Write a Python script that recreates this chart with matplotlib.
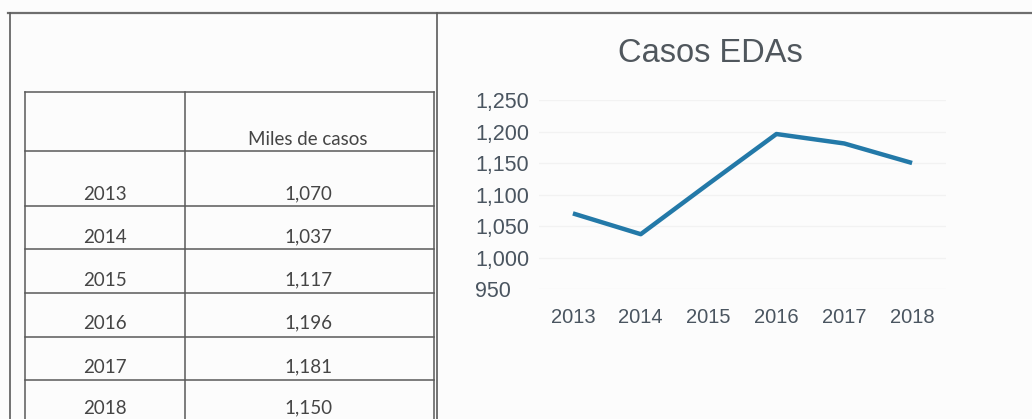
import matplotlib.pyplot as plt

years = [2013, 2014, 2015, 2016, 2017, 2018]
casos = [1070, 1037, 1117, 1196, 1181, 1150]
col_header = 'Miles de casos'
title = 'Casos EDAs'
y_ticks = [950, 1000, 1050, 1100, 1150, 1200, 1250]

W, H = 1032, 419
fig = plt.figure(figsize=(W / 100, H / 100), dpi=100, facecolor='#fcfcfc')

# page layer in pixel units for the frame and the table
page = fig.add_axes([0, 0, 1, 1])
page.set_xlim(0, W)
page.set_ylim(H, 0)
page.axis('off')

frame = '#5a5a5a'
page.plot([8, W], [13, 13], color='#6e6e6e', lw=1.6)
page.plot([10, 10], [13, H], color=frame, lw=1.2)
page.plot([437, 437], [13, H], color=frame, lw=1.2)

# table grid
tl, tr, tc = 25, 434, 185
row_lines = [92, 151, 206, 249, 293, 337, 380]
for y in row_lines:
    page.plot([tl, tr], [y, y], color=frame, lw=1.1)
for x in (tl, tc, tr):
    page.plot([x, x], [92, H], color=frame, lw=1.1)

tfont = dict(family='Lato', fontsize=13.5, color='#454545', ha='center', va='center')
page.text(308, 139, col_header, **tfont)
row_y = [194, 237, 280, 323, 367, 408]
for yr, v, y in zip(years, casos, row_y):
    page.text(105, y, str(yr), **tfont)
    page.text(308, y, f'{v:,}', **tfont)

# line chart
ax = fig.add_axes([539 / W, 1 - 289 / H, (946 - 539) / W, (289 - 100) / H])
ax.set_facecolor('#fcfcfc')
ax.plot(years, casos, color='#2379a8', lw=3.2, solid_capstyle='butt')
ax.set_xlim(2012.5, 2018.5)
ax.set_ylim(950, 1250)
ax.set_yticks(y_ticks)
ax.set_yticklabels([f'{t:,}' for t in y_ticks])
ax.set_xticks(years)
ax.grid(axis='y', color='#f2f2f2', lw=1)
for s in ax.spines.values():
    s.set_visible(False)
ax.tick_params(length=0, colors='#4a5560')
ax.tick_params(axis='y', pad=46, labelsize=15.5)
ax.tick_params(axis='x', pad=14, labelsize=14.5)
for lab in ax.get_yticklabels() + ax.get_xticklabels():
    lab.set_family('Liberation Sans')
for lab in ax.get_yticklabels():
    lab.set_ha('left')
fig.text(710 / W, 1 - 53 / H, title, family='Liberation Sans', fontsize=23.5,
         color='#50575d', ha='center', va='center')

fig.savefig('out.png', dpi=100, facecolor=fig.get_facecolor())
